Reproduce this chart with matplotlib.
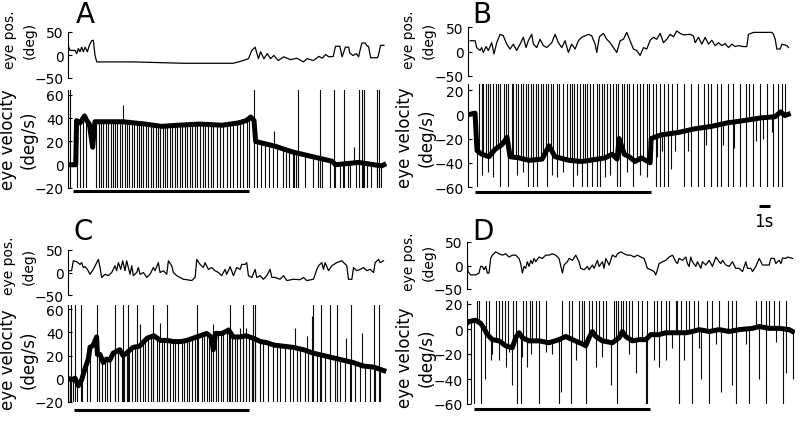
import numpy as np
import matplotlib
matplotlib.use("Agg")
import matplotlib.pyplot as plt
from matplotlib.transforms import blended_transform_factory

plt.rcParams['font.family'] = ['DejaVu Sans']

# ---------------- panel A ----------------
a_pos_t = [0.0, 0.18, 0.64, 0.79, 0.94, 1.09, 1.24, 1.39, 1.55, 1.76, 1.94, 2.15, 2.30, 2.45, 2.61,
           5.94, 10.5, 15.0, 15.8, 16.4, 16.7, 17.0, 17.3, 17.5, 17.8, 18.1, 18.4, 18.7, 19.1, 19.6,
           20.2, 20.8, 21.4, 21.7, 22.3, 22.8, 23.1, 23.4, 23.7, 24.1, 24.3, 24.7, 24.9, 25.2, 25.5,
           25.6, 25.9, 26.2, 26.4, 26.5, 26.7, 27.0, 27.2, 27.3, 27.5, 28.1, 28.2, 28.4, 28.7]
a_pos_v = [21, 10, 10, 3, 14, 7, 17, 7, 17, 7, 21, 31, 32, 0, -15,
           -15, -18, -18, -13, -8, 10, 17, -8, 7, -8, 3, -8, -1, -12, -4,
           -10, -7, -15, -8, -12, -3, -7, 1, -4, -3, 19, 19, -4, 17, 17,
           4, -1, 3, -4, 7, 26, 26, 19, 19, -6, -6, -1, 21, 21]
a_vel_t = [0.0, 0.7, 0.78, 1.1, 1.5, 1.7, 1.94, 2.24, 2.45, 3.0, 5.0, 7.0, 8.5, 10.0, 12.0,
           14.0, 15.5, 16.2, 16.6, 16.9, 17.05, 18.8, 20.4, 22.2, 24.0, 24.3, 26.4, 28.5, 28.7]
a_vel_v = [0, 0, 38, 36, 42, 38, 35, 15, 37, 37, 37, 35, 33, 34, 35,
           34, 36, 38, 41, 38, 20, 16, 11, 7, 3, 0, 2, -1, 0]
a_sacc_up = []
a_sacc_down = [0.79, 1.09, 1.33, 1.64, 2.55, 2.82, 3.03, 3.21, 3.42, 3.67, 3.88, 4.12, 4.30, 4.48,
               4.73, 4.91, 5.18, 5.33, 5.58, 5.79, 6.0, 6.24, 6.45, 6.64, 6.85, 7.06, 7.30, 7.52,
               7.76, 7.97, 8.15, 8.36, 8.61, 8.82, 9.03, 9.27, 9.48, 9.73, 9.94, 10.18, 10.39,
               10.64, 10.85, 11.09, 11.30, 11.55, 11.76, 12.0, 12.24, 12.48, 12.76, 12.97, 13.21,
               13.52, 13.82, 14.12, 14.42, 14.73, 15.03, 15.33, 15.64, 15.94, 16.24, 16.45,
               17.2, 17.5, 17.9, 18.3, 18.6, 19.0, 19.5, 19.8, 20.1, 20.4, 20.5, 20.7, 20.9,
               21.5, 22.3, 22.7, 23.1, 23.8, 24.3, 24.7, 25.0, 25.4, 25.6, 26.2, 26.8, 27.2,
               27.5, 28.1, 28.4]
a_sacc_full = [0.0, 0.2, 16.9, 20.9, 22.9, 24.2, 25.1, 26.4, 26.7, 26.9, 28.1, 28.3]
a_sacc_part_t = [5.0, 18.7, 26.0]
a_sacc_part_v = [51, 29, 15]
a_stim = (0.45, 16.45)

# ---------------- panel B ----------------
b_pos_t = [0.2, 0.64, 0.79, 1.09, 1.24, 1.39, 1.64, 1.85, 2.15, 2.36, 2.61, 2.91, 3.21, 3.52, 3.82,
           4.12, 4.42, 4.73, 5.03, 5.27, 5.48, 5.79, 5.94, 6.24, 6.55, 6.85, 7.15, 7.61, 7.91, 8.21,
           8.52, 8.82, 9.12, 9.42, 9.73, 10.03, 10.33, 10.64, 10.94, 11.24, 11.55, 11.70, 11.94,
           12.30, 12.61, 12.91, 13.21, 13.52, 13.82, 14.12, 14.42, 14.73, 15.03, 15.33, 15.64,
           15.94, 16.24, 16.55, 16.85, 17.15, 17.45, 17.76, 18.06, 18.36, 18.67, 18.97, 19.27,
           19.58, 20.18, 20.48, 20.64, 20.94, 21.24, 21.55, 21.85, 22.15, 22.45, 22.76, 23.06,
           23.36, 23.67, 23.97, 24.27, 24.58, 25.03, 25.33, 25.48, 25.94, 26.55, 27.15, 27.61,
           27.76, 27.91, 28.06, 28.36, 28.52, 28.97, 29.12]
b_pos_v = [22, 22, 8, 2, 8, -2, 10, 2, 18, -5, 18, 35, 32, 15, 5,
           15, 2, 15, 29, 8, 22, 35, 15, 8, 25, 12, 8, 18, 35, 18,
           8, 22, -2, 15, 5, 22, 29, 32, 35, 32, 15, -2, 30,
           37, 25, 18, 8, -2, 22, 25, 39, 22, 5, 2, -8,
           8, 5, 23, 29, 25, 37, 18, 25, 35, 30, 42, 37,
           34, 35, 32, 18, 29, 15, 29, 15, 23, 12, 18, 12,
           16, 8, 15, 10, 12, 10, 10, 35, 39, 39, 39, 39,
           35, 25, 5, 5, 15, 12, 8]
b_vel_t = [0.18, 0.64, 0.82, 1.27, 1.91, 2.45, 3.09, 3.55, 3.82, 4.64, 5.55, 6.73, 7.36, 7.91,
           9.18, 10.36, 12.45, 13.1, 13.55, 13.73, 14.2, 14.64, 15.18, 15.73, 16.36, 16.55, 16.64,
           17.55, 19.1, 20.6, 22.1, 23.6, 25.2, 26.6, 27.9, 28.4, 28.8, 29.1]
b_vel_v = [0, 1, -30, -33, -35, -29, -25, -19, -35, -36, -38, -37, -26, -35,
           -38, -39, -36, -33, -37, -20, -33, -35, -39, -36, -39, -40, -20,
           -17, -15, -12, -10, -7, -5, -3, -2, 2, -1, 0]
b_sacc_up = [1.0, 1.24, 1.39, 1.64, 1.85, 2.0, 2.3, 2.55, 2.76, 2.91, 3.27, 3.45, 3.67, 3.97, 4.12,
             4.36, 4.58, 4.79, 5.03, 5.24, 5.48, 5.70, 5.94, 6.18, 6.39, 6.61, 6.85, 7.06, 7.30,
             7.52, 7.76, 8.06, 8.30, 8.67, 8.97, 9.27, 9.42, 9.64, 9.88, 10.18, 10.42, 10.64,
             10.85, 11.09, 11.39, 11.70, 11.94, 12.15, 12.36, 12.61, 12.91, 13.21, 13.45, 13.67,
             13.97, 14.18, 14.42, 14.67, 15.03, 15.39, 15.64, 15.94, 16.24, 16.48,
             16.8, 18.5, 19.0, 21.8, 25.5, 28.8]
b_sacc_down = [0.79, 2.91, 3.67, 5.48, 5.94, 6.24, 7.15, 9.58, 10.33, 10.79, 11.24, 11.70, 12.0,
               13.52, 13.82, 15.03]
b_sacc_full = [17.06, 17.42, 17.82, 18.18, 19.64, 20.30, 20.91, 21.45, 22.06, 22.58, 23.03, 23.64,
               24.09, 24.70, 25.30, 25.91, 26.52, 27.12, 27.73, 28.18, 28.55]
b_sacc_part_t = [1.24, 1.85, 2.3, 4.42, 5.03, 7.61, 8.06, 8.67, 9.88, 12.45, 12.91, 14.42, 15.64,
                 16.24, 17.2, 17.6, 18.4, 18.8, 20.0, 21.6, 23.2, 24.2, 26.2, 26.8, 27.6]
b_sacc_part_v = [-50, -48, -52, -50, -48, -50, -52, -48, -50, -52, -50, -48, -50,
                 -52, -35, -30, -45, -30, -30, -25, -25, -28, -22, -20, -15]
b_stim = (0.64, 16.64)

# ---------------- panel C ----------------
c_pos_t = [0.0, 0.03, 0.33, 0.48, 0.79, 1.09, 1.24, 1.39, 1.55, 1.76, 2.0, 2.30, 2.61, 2.76, 2.91,
           3.06, 3.36, 3.67, 3.97, 4.27, 4.42, 4.58, 4.79, 4.97, 5.18, 5.33, 5.64, 5.79, 5.94,
           6.24, 6.39, 6.55, 6.85, 7.15, 7.45, 7.76, 7.91, 8.21, 8.36, 8.67, 8.97, 9.12, 9.42,
           9.58, 9.88, 10.18, 10.48, 10.79, 11.24, 11.55, 11.70, 12.0, 12.30, 12.45, 12.76,
           13.06, 13.36, 13.67, 13.97, 14.27, 14.42, 14.73, 15.03, 15.33, 15.64, 15.79, 16.09,
           16.24, 16.39, 16.70, 17.0, 17.15, 17.45, 17.76, 18.06, 18.36, 18.52, 18.82, 19.27,
           19.58, 19.88, 20.48, 21.09, 21.39, 21.70, 22.30, 22.61, 22.76, 23.06, 23.21, 23.36,
           23.67, 23.97, 24.42, 24.88, 25.33, 25.48, 25.79, 25.94, 26.24, 26.55, 26.85, 27.15,
           27.45, 27.76, 27.91, 28.21, 28.36, 28.67]
c_pos_v = [-15, 4, 4, 26, 24, 18, 22, 11, 13, 7, -4, 7, 22, 29, 11,
           -11, -4, -7, 0, 15, 4, 22, 7, 26, 4, 26, -4, 15, -7,
           0, 11, -4, 0, -11, -4, 11, 4, 22, 0, 4, -4, 26, 15,
           0, -7, -11, -15, -16, -18, -11, 29, 18, 11, 22, 7,
           11, 4, 0, -7, 7, -4, 13, -7, 11, 7, 18, 18,
           22, -7, -11, 7, -11, -7, -15, -7, 7, -11, -11, -15,
           -7, -18, -15, -16, -11, -18, -15, 7, 15, 22, 7, 22,
           4, 15, 22, 26, 15, -15, -15, 11, 4, 7, 11, 4,
           7, 0, 22, 29, 22, 26]
c_vel_t = [0.0, 0.33, 0.64, 0.94, 1.24, 1.55, 1.85, 2.0, 2.3, 2.6, 2.67, 2.9, 3.2, 3.5, 3.8,
           4.1, 4.7, 5.0, 5.3, 5.9, 6.5, 7.2, 7.8, 8.4, 9.0, 9.6, 10.2, 10.8, 11.4, 12.0,
           12.6, 13.0, 13.2, 13.4, 14.0, 14.6, 15.0, 15.6, 16.2, 16.8, 17.5, 18.1, 18.7, 19.6,
           20.5, 21.4, 22.3, 23.2, 24.1, 25.0, 25.9, 26.8, 27.8, 28.7]
c_vel_v = [0.5, -1, 0.5, -6, -1, 9, 17, 27, 29, 36, 21, 21, 14, 17, 16,
           22, 25, 20, 22, 27, 28, 35, 37, 33, 33, 32, 32, 33, 35, 37,
           39, 36, 25, 39, 39, 42, 36, 36, 37, 35, 32, 31, 29, 28,
           27, 25, 22, 20, 18, 16, 14, 11, 10, 7]
c_sacc_up = []
c_sacc_down = [0.0, 0.18, 0.48, 0.79, 1.24, 1.76, 2.0, 2.85, 3.06, 3.36, 3.58, 3.82, 4.27, 4.58,
               4.88, 5.09, 5.33, 5.58, 5.79, 6.09, 6.24, 6.55, 6.79, 7.0, 7.30, 7.52, 7.76, 8.06,
               8.30, 8.52, 8.73, 8.97, 9.27, 9.52, 9.73, 10.03, 10.33, 10.55, 10.79, 11.03, 11.24,
               11.55, 11.85, 12.15, 12.36, 12.61, 12.85, 12.97, 13.21, 13.45, 13.67, 13.88, 14.12,
               14.42, 14.67, 14.88, 15.18, 15.39, 15.64, 15.94, 16.18, 16.48, 16.70, 17.0, 17.45,
               17.76, 18.21, 18.67, 18.97, 19.27, 19.73, 20.18, 20.48, 20.79, 21.09, 21.55, 21.85,
               22.15, 22.61, 22.91, 23.36, 23.82, 24.27, 24.73, 25.18, 25.64, 26.09, 26.55, 27.0,
               27.45, 27.91, 28.36]
c_sacc_full = [0.0, 0.27, 0.64, 1.15, 2.67, 4.27, 4.97, 5.48, 6.24, 7.76, 8.97, 11.70, 14.73,
               15.88, 16.85, 17.0, 22.30, 22.97, 23.82, 24.42, 25.70, 27.76, 28.30]
c_sacc_part_t = [1.85, 6.55, 8.36, 13.2, 15.6, 16.2, 20.6, 21.7, 22.15, 25.3, 26.7]
c_sacc_part_v = [29, 47, 48, 47, 44, 44, 44, 37, 54, 35, 39]
c_stim = (0.55, 16.45)

# ---------------- panel D ----------------
d_pos_t = [0.0, 0.09, 0.33, 0.79, 1.09, 1.24, 1.39, 1.55, 1.70, 1.85,
           2.0, 2.15, 2.30, 2.61, 2.91, 3.21, 3.52, 3.82, 4.12, 4.42,
           4.73, 4.88, 5.03, 5.18, 5.33, 5.48, 5.64, 5.79, 5.94, 6.09,
           6.24, 6.55, 6.85, 7.15, 7.45, 7.76, 8.06, 8.36, 8.67, 8.82,
           9.12, 9.27, 9.58, 9.88, 10.18, 10.33, 10.64, 10.94, 11.09, 11.39,
           11.55, 11.85, 12.0, 12.30, 12.45, 12.61, 12.91, 13.21, 13.52, 13.67,
           13.97, 14.27, 14.58, 14.88, 15.18, 15.48, 15.79, 16.09, 16.39, 16.70,
           17.0, 17.15, 17.30, 17.45, 17.76, 18.06, 18.36, 18.67, 18.97, 19.12,
           19.27, 19.58, 19.88, 20.03, 20.18, 20.33, 20.48, 20.79, 20.94, 21.24,
           21.39, 21.70, 22.0, 22.30, 22.61, 22.91, 23.06, 23.21, 23.52, 23.82,
           24.12, 24.27, 24.42, 24.73, 25.03, 25.33, 25.48, 25.79, 25.94, 26.24,
           26.55, 26.85, 27.15, 27.45, 27.61, 27.91, 28.06, 28.21, 28.36, 28.52,
           28.67, 28.97, 29.12, 29.58]
d_pos_v = [18, -13, -20, -20, -16, -2, -2, -9, -2, -16,
           -16, 15, 22, 29, 25, 22, 25, 18, 22, 22,
           15, 4, -16, -2, -6, 8, -2, 11, 4, 15,
           8, 18, 15, 22, 22, 25, 22, 15, -16, 1,
           8, 15, 11, 22, 8, -6, -9, -2, -9, 1,
           -6, 11, -2, 8, -6, 15, 1, 22, 18, 25,
           29, 25, 22, 22, 18, 22, 18, 15, -6, -9,
           -13, -20, -9, 4, 8, 11, 18, 22, 8, 4,
           15, 11, 18, 4, -2, 18, 8, -2, 8, -6,
           8, 1, 11, -2, 18, 8, 4, 11, 1, -2,
           8, 1, -6, -6, -13, 8, -6, -6, -13, -2,
           15, 1, 1, 1, 15, 15, 4, 8, 11, 4,
           16, 15, 18, 15]
d_vel_t = [0.0, 0.18, 0.79, 1.24, 1.55, 1.85, 2.30, 2.91, 3.52, 4.12,
           4.42, 4.73, 5.03, 5.64, 6.55, 7.45, 8.36, 8.97, 9.58, 10.48,
           10.79, 11.09, 11.39, 11.70, 12.30, 13.21, 13.82, 14.12, 14.42, 15.03,
           15.64, 16.24, 16.70, 17.45, 18.06, 18.97, 19.88, 20.48, 21.09, 22.0,
           22.91, 23.82, 24.73, 25.94, 26.55, 27.45, 28.36, 29.27, 29.58]
d_vel_v = [4.5, 6, 7, 4.5, 0.5, -4.5, -8.5, -9.5, -13.5, -15,
           -7, -3, -7, -9.5, -9.5, -11, -8.5, -6, -8.5, -12,
           -13.5, -7, -2, -6, -9.5, -11, -7, -2, -6, -9.5,
           -8.5, -8.5, -4.5, -4.5, -3, -3, -3, -2, -0.5, -2,
           -0.5, -2, -0.5, 0.5, 2, 0.5, 0.5, -0.5, -2]
d_sacc_up = [0.94, 1.09, 1.76, 2.0, 2.61, 2.91, 3.21, 3.45, 3.76, 4.18, 4.42, 5.09, 5.33, 5.70,
             5.94, 6.24, 6.55, 7.15, 8.67, 9.27, 9.58, 10.18, 10.42, 10.64, 11.09, 11.39, 11.70,
             12.0, 12.36, 12.61, 13.36, 13.58, 13.76, 13.97, 14.18, 14.42, 14.73, 15.03, 15.58,
             15.88, 16.39, 17.0, 17.30, 17.61, 18.06, 18.36, 18.97, 19.12, 19.42, 19.88, 20.18,
             20.64, 21.03, 21.85, 22.30, 22.91, 23.67, 24.12, 24.42, 26.24, 26.70, 27.15, 27.45,
             27.91, 28.36, 28.97]
d_sacc_down = []
d_sacc_full = []
d_sacc_part_t = [0.03, 0.33, 0.64, 1.24, 1.64, 2.15, 2.30, 2.91, 3.52, 3.82,
                 4.12, 4.58, 4.88, 5.03, 5.48, 5.79, 6.55, 7.15, 7.76, 8.36,
                 8.52, 9.42, 9.88, 10.79, 11.70, 12.30, 13.06, 13.67, 14.73, 15.33,
                 16.24, 16.39, 17.0, 17.45, 18.06, 18.67, 19.27, 19.73, 20.48, 21.09,
                 21.24, 22.0, 22.61, 23.06, 24.12, 24.42, 25.33, 25.64, 26.55, 27.15,
                 28.06, 28.67, 28.97, 29.58]
d_sacc_part_v = [-55, -62, -62, -62, -40, -25, -20, -25, -30, -18,
                 -45, -62, -62, -22, -30, -20, -62, -18, -20, -62,
                 -50, -62, -25, -62, -30, -22, -45, -62, -20, -35,
                 -62, -62, -25, -30, -25, -15, -62, -25, -62, -15,
                 -40, -62, -12, -50, -45, -62, -12, -62, -40, -62,
                 -10, -62, -35, -40]
d_stim = (0.64, 16.64)

pos_ticks = [-50, 0, 50]
vel_ticks_pos = [-20, 0, 20, 40, 60]
vel_ticks_neg = [-60, -40, -20, 0, 20]

W, H = 800, 427
fig = plt.figure(figsize=(8, 4.27), dpi=100)


def box(x0, y_top, y_bot, width=328):
    return [x0 / W, 1 - y_bot / H, width / W, (y_bot - y_top) / H]


def style(ax, ticks, lim):
    for side in ['top', 'right', 'bottom']:
        ax.spines[side].set_visible(False)
    ax.spines['left'].set_linewidth(0.8)
    ax.set_xticks([])
    ax.set_xlim(0, 29.8)
    ax.set_ylim(*lim)
    ax.set_yticks(ticks)
    ax.tick_params(axis='y', direction='in', length=3, width=0.8, labelsize=10, pad=3)
    ax.patch.set_alpha(0)


def draw_panel(ax_p, ax_v, pos_t, pos_v, vel_t, vel_v, up, down, full, part_t, part_v,
               stim, vlim, vticks, bar_y):
    ax_p.plot(pos_t, pos_v, color='black', lw=0.9)
    style(ax_p, pos_ticks, (-50, 50))

    lo, hi = vlim
    spike = dict(color='0.05', lw=0.8)
    if up:
        ax_v.vlines(up, np.interp(up, vel_t, vel_v), hi + 50, **spike)
    if down:
        ax_v.vlines(down, np.interp(down, vel_t, vel_v), lo - 50, **spike)
    if full:
        ax_v.vlines(full, lo - 50, hi + 50, **spike)
    if part_t:
        ax_v.vlines(part_t, np.interp(part_t, vel_t, vel_v), part_v, **spike)
    ax_v.plot(vel_t, vel_v, color='black', lw=3.6, solid_joinstyle='round')
    style(ax_v, vticks, vlim)

    trans = blended_transform_factory(ax_v.transData, ax_v.transAxes)
    ax_v.plot(stim, [bar_y, bar_y], color='black', lw=2.2, transform=trans,
              clip_on=False, solid_capstyle='butt')
    return trans


axA_p = fig.add_axes(box(68, 33, 79))
axA_v = fig.add_axes(box(68, 91, 189))
axB_p = fig.add_axes(box(468, 28, 77))
axB_v = fig.add_axes(box(468, 85, 188))
axC_p = fig.add_axes(box(68, 251, 296))
axC_v = fig.add_axes(box(68, 306, 403))
axD_p = fig.add_axes(box(467, 243, 290))
axD_v = fig.add_axes(box(467, 302, 405))

draw_panel(axA_p, axA_v, a_pos_t, a_pos_v, a_vel_t, a_vel_v, a_sacc_up, a_sacc_down,
           a_sacc_full, a_sacc_part_t, a_sacc_part_v, a_stim, (-20, 64.3), vel_ticks_pos, -0.03)
trB = draw_panel(axB_p, axB_v, b_pos_t, b_pos_v, b_vel_t, b_vel_v, b_sacc_up, b_sacc_down,
                 b_sacc_full, b_sacc_part_t, b_sacc_part_v, b_stim, (-60, 25), vel_ticks_neg, -0.049)
draw_panel(axC_p, axC_v, c_pos_t, c_pos_v, c_vel_t, c_vel_v, c_sacc_up, c_sacc_down,
           c_sacc_full, c_sacc_part_t, c_sacc_part_v, c_stim, (-20, 63.5), vel_ticks_pos, -0.082)
draw_panel(axD_p, axD_v, d_pos_t, d_pos_v, d_vel_t, d_vel_v, d_sacc_up, d_sacc_down,
           d_sacc_full, d_sacc_part_t, d_sacc_part_v, d_stim, (-60, 22.4), vel_ticks_neg, -0.044)

# 1 s scale bar
axB_v.plot([26.4, 27.4], [-0.184, -0.184], color='black', lw=2.2, transform=trB,
           clip_on=False, solid_capstyle='butt')
axB_v.text(26.9, -0.33, '1s', transform=trB, ha='center', va='center', fontsize=12)

# panel letters
for letter, x, y in [('A', 85, 15), ('B', 482, 15), ('C', 83, 232), ('D', 483, 232)]:
    fig.text(x / W, 1 - y / H, letter, fontsize=20, ha='center', va='center')

# y labels
for txt, x, y, fs, ls in [('eye pos.\n(deg)', 20, 40, 10, 1.55),
                          ('eye velocity\n(deg/s)', 18, 140, 12, 1.2),
                          ('eye pos.\n(deg)', 419, 40, 10, 1.55),
                          ('eye velocity\n(deg/s)', 416, 138, 12, 1.25),
                          ('eye pos.\n(deg)', 19, 266, 10, 1.55),
                          ('eye velocity\n(deg/s)', 18, 360, 12, 1.2),
                          ('eye pos.\n(deg)', 419, 262, 10, 1.55),
                          ('eye velocity\n(deg/s)', 416, 358, 12, 1.25)]:
    fig.text(x / W, 1 - y / H, txt, rotation=90, ha='center', va='center',
             multialignment='center', fontsize=fs, linespacing=ls)

fig.savefig('out.png', dpi=100)
